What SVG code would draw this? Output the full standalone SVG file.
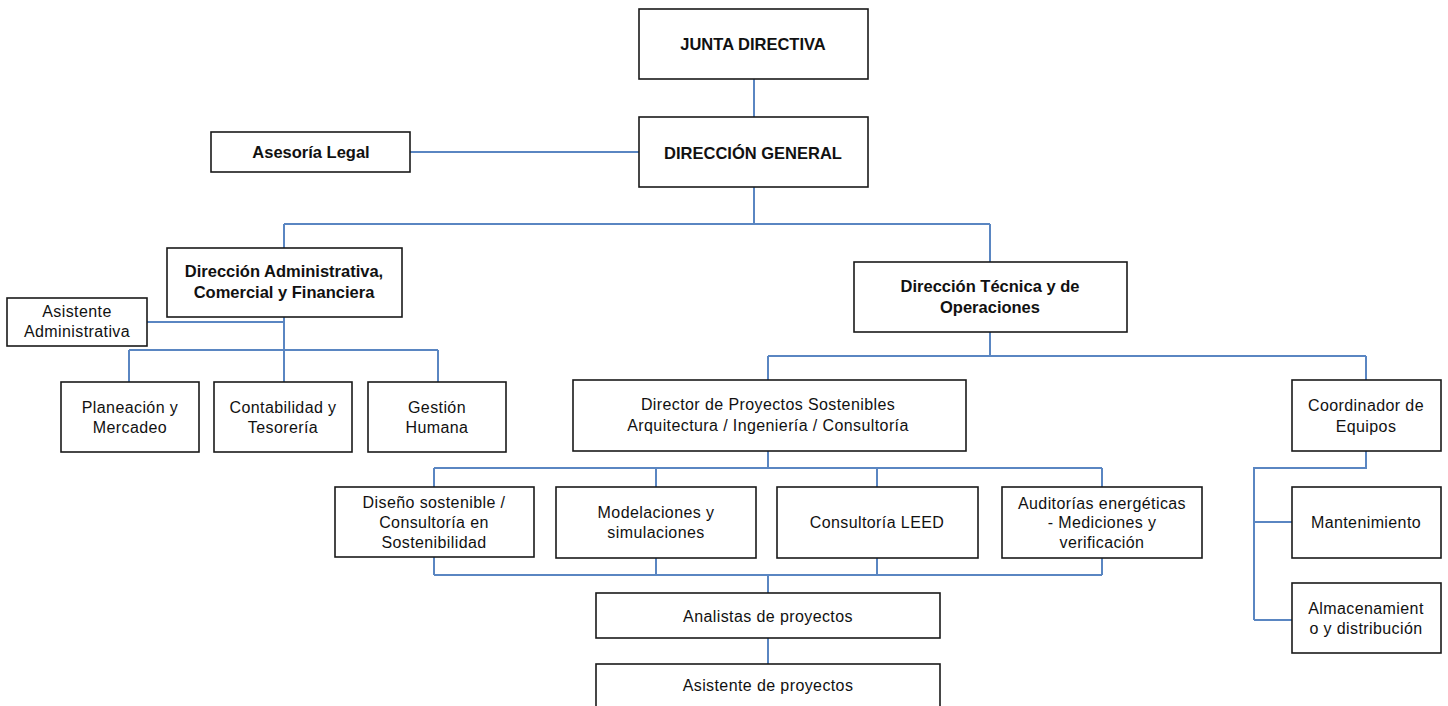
<svg xmlns="http://www.w3.org/2000/svg" width="1448" height="706" viewBox="0 0 1448 706">
<style>
.box{fill:#fff;stroke:#1a1a1a;stroke-width:1.6}
.t{font-family:"Liberation Sans",Arial,sans-serif;font-size:16px;letter-spacing:0.4px;fill:#111;text-anchor:middle;dominant-baseline:central}
.b{font-family:"Liberation Sans",Arial,sans-serif;font-size:16.5px;font-weight:bold;fill:#111;text-anchor:middle;dominant-baseline:central}
.c{fill:none;stroke:#5a86c2;stroke-width:2}
</style>
<rect width="1448" height="706" fill="#fff"/>
<g id="connectors">
<path class="c" d="M754 79V117"/>
<path class="c" d="M410 152H639"/>
<path class="c" d="M754 187V224M284 224H990M284 224V248M990 224V262"/>
<path class="c" d="M284 317V382M147 322H284M129 350H438M129 350V382M438 350V382"/>
<path class="c" d="M990 331V356M768 356H1366M768 356V380M1366 356V380"/>
<path class="c" d="M1366 451V468H1254V620M1254 522H1292M1254 620H1292"/>
<path class="c" d="M768 451V468M434 468H1102M434 468V487M656 468V487M877 468V487M1102 468V487"/>
<path class="c" d="M434 557V575M656 557V575M877 557V575M1102 557V575M434 575H1102M768 575V593"/>
<path class="c" d="M768 638V664"/>
</g>
<g id="junta"><rect class="box" x="639" y="9" width="229" height="70"/><text class="b" x="753" y="44">JUNTA DIRECTIVA</text></g>
<g id="direccion-general"><rect class="box" x="639" y="117" width="229" height="70"/><text class="b" x="753" y="153">DIRECCIÓN GENERAL</text></g>
<g id="asesoria"><rect class="box" x="211" y="132" width="199" height="40"/><text class="b" x="311" y="152">Asesoría Legal</text></g>
<g id="dac"><rect class="box" x="167" y="248" width="235" height="69"/><text class="b" x="284" y="271">Dirección Administrativa,</text><text class="b" x="284" y="292">Comercial y Financiera</text></g>
<g id="asistente-adm"><rect class="box" x="7" y="298" width="140" height="48"/><text class="t" x="77" y="311">Asistente</text><text class="t" x="77" y="331">Administrativa</text></g>
<g id="planeacion"><rect class="box" x="61" y="382" width="138" height="70"/><text class="t" x="130" y="407">Planeación y</text><text class="t" x="130" y="427">Mercadeo</text></g>
<g id="contabilidad"><rect class="box" x="214" y="382" width="138" height="70"/><text class="t" x="283" y="407">Contabilidad y</text><text class="t" x="283" y="427">Tesorería</text></g>
<g id="gestion"><rect class="box" x="368" y="382" width="138" height="70"/><text class="t" x="437" y="407">Gestión</text><text class="t" x="437" y="427">Humana</text></g>
<g id="dto"><rect class="box" x="854" y="262" width="273" height="70"/><text class="b" x="990" y="286">Dirección Técnica y de</text><text class="b" x="990" y="307">Operaciones</text></g>
<g id="director"><rect class="box" x="573" y="380" width="393" height="71"/><text class="t" x="768" y="404">Director de Proyectos Sostenibles</text><text class="t" x="768" y="425">Arquitectura / Ingeniería / Consultoría</text></g>
<g id="coordinador"><rect class="box" x="1292" y="380" width="149" height="71"/><text class="t" x="1366" y="405">Coordinador de</text><text class="t" x="1366" y="426">Equipos</text></g>
<g id="mantenimiento"><rect class="box" x="1292" y="487" width="149" height="71"/><text class="t" x="1366" y="522">Mantenimiento</text></g>
<g id="almacenamiento"><rect class="box" x="1292" y="583" width="149" height="70"/><text class="t" x="1366" y="608">Almacenamient</text><text class="t" x="1366" y="628">o y distribución</text></g>
<g id="diseno"><rect class="box" x="335" y="487" width="199" height="70"/><text class="t" x="434" y="502">Diseño sostenible /</text><text class="t" x="434" y="522">Consultoría en</text><text class="t" x="434" y="542">Sostenibilidad</text></g>
<g id="modelaciones"><rect class="box" x="556" y="487" width="200" height="71"/><text class="t" x="656" y="512">Modelaciones y</text><text class="t" x="656" y="532">simulaciones</text></g>
<g id="leed"><rect class="box" x="777" y="487" width="201" height="71"/><text class="t" x="877" y="522">Consultoría LEED</text></g>
<g id="auditorias"><rect class="box" x="1002" y="487" width="200" height="71"/><text class="t" x="1102" y="503">Auditorías energéticas</text><text class="t" x="1102" y="522">- Mediciones y</text><text class="t" x="1102" y="542">verificación</text></g>
<g id="analistas"><rect class="box" x="596" y="593" width="344" height="45"/><text class="t" x="768" y="616">Analistas de proyectos</text></g>
<g id="asistente-proy"><rect class="box" x="596" y="664" width="344" height="50"/><text class="t" x="768" y="685">Asistente de proyectos</text></g>
</svg>
